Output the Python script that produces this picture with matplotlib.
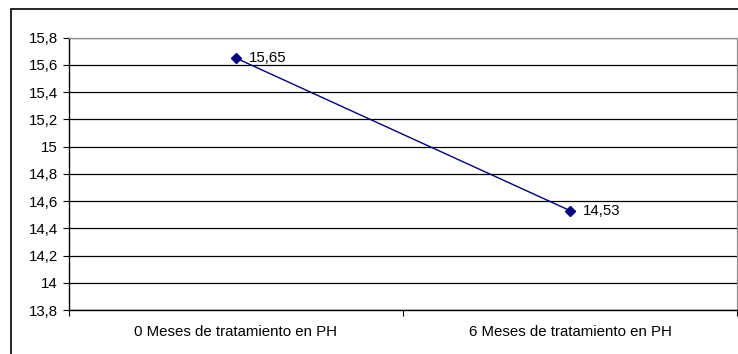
import matplotlib
matplotlib.use("Agg")
import matplotlib.pyplot as plt
from matplotlib.patches import Rectangle
from matplotlib.ticker import FuncFormatter, FixedLocator

categories = ["0 Meses de tratamiento en PH", "6 Meses de tratamiento en PH"]
values = [15.65, 14.53]
labels = ["15,65", "14,53"]

plt.rcParams['font.family'] = ['Liberation Sans', 'DejaVu Sans']
FS = 10.8

fig = plt.figure(figsize=(7.38, 3.54), dpi=100)
ax = fig.add_axes([69/738, 1-310/354, (737-69)/738, (310-37.7)/354])

x = [0.5, 1.5]
ax.plot(x, values, color='#000080', lw=1.0, marker='D', ms=5.5, mfc='#000080', mec='#000080')
for xi, v, lab in zip(x, values, labels):
    ax.annotate(lab, (xi, v), xytext=(9.5, 0), textcoords='offset points',
                va='center', ha='left', fontsize=FS)

ax.set_xlim(0, 2)
ax.set_ylim(13.8, 15.8)
yt = [13.8 + 0.2*i for i in range(11)]
ax.set_yticks(yt)
ax.yaxis.set_major_formatter(FuncFormatter(lambda v, p: ('%g' % round(v, 1)).replace('.', ',')))
ax.grid(axis='y', color='black', lw=0.9)
ax.set_axisbelow(True)

ax.xaxis.set_major_locator(FixedLocator([0, 1, 2]))
ax.xaxis.set_minor_locator(FixedLocator(x))
ax.set_xticklabels([])
ax.set_xticklabels(categories, minor=True)
ax.tick_params(axis='x', which='minor', length=0, pad=11, labelsize=FS)
ax.tick_params(axis='x', which='major', length=4, direction='out', color='black')
ax.tick_params(axis='y', length=4, direction='out', labelsize=FS, pad=4)

for s in ['top', 'right']:
    ax.spines[s].set_color('#909090')
    ax.spines[s].set_linewidth(0.9)
for s in ['left', 'bottom']:
    ax.spines[s].set_color('black')
    ax.spines[s].set_linewidth(1.0)

fig.patches.append(Rectangle((11/738, -0.1), 1.0, (354-9)/354 + 0.1,
                             transform=fig.transFigure, fill=False,
                             edgecolor='black', lw=1.2))

fig.savefig("out.png", dpi=100)
